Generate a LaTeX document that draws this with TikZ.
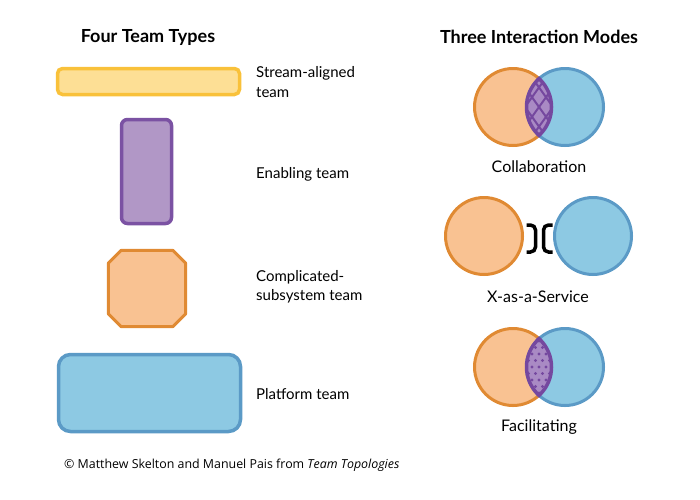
\documentclass[tikz,border=0pt]{standalone}
\usepackage{fontspec}
\setmainfont{Lato}
\newfontfamily\credfont{Open Sans}
\usetikzlibrary{calc}
\definecolor{ylwF}{HTML}{FDDF95}\definecolor{ylwD}{HTML}{F9C13A}
\definecolor{purF}{HTML}{B197C6}\definecolor{purD}{HTML}{7B52A3}
\definecolor{orgF}{HTML}{F9C292}\definecolor{orgD}{HTML}{E08A33}
\definecolor{bluF}{HTML}{8DC9E3}\definecolor{bluD}{HTML}{5B9AC6}
\definecolor{lnsF}{HTML}{A98AC4}\definecolor{lnsD}{HTML}{75489F}
\begin{document}
\begin{tikzpicture}[x=1pt,y=-1pt,
 team/.style={draw,line width=3.5pt,inner sep=0},
 mode/.style={circle,draw,line width=3pt,minimum size=77pt,inner sep=0},
 lbl/.style={anchor=west,align=left,inner sep=0,font=\fontsize{15}{19.5}\selectfont},
 ttl/.style={inner sep=0,font=\bfseries\fontsize{18}{20}\selectfont},
 modelbl/.style={inner sep=0,font=\fontsize{16}{19}\selectfont}]
\useasboundingbox (0,0) rectangle (700,499);
% four team types
\node[ttl] (t1) at (148,37) {Four Team Types};
\node[team,fill=ylwF,draw=ylwD,rounded corners=5pt,minimum width=182pt,minimum height=26pt] (sa) at (148.5,81.5) {};
\node[team,fill=purF,draw=purD,rounded corners=6pt,minimum width=50pt,minimum height=104pt] (en) at (146.5,171.5) {};
\node[inner sep=0,minimum width=77pt,minimum height=76pt] (cs) at (147,288.5) {};
\draw[orgD,fill=orgF,line width=3pt,line join=round] ($(cs.north west)+(13,0)$) -- ($(cs.north east)+(-13,0)$) -- ($(cs.north east)+(0,13)$)
  -- ($(cs.south east)+(0,-13)$) -- ($(cs.south east)+(-13,0)$) -- ($(cs.south west)+(13,0)$) -- ($(cs.south west)+(0,-13)$)
  -- ($(cs.north west)+(0,13)$) -- cycle;
\node[team,fill=bluF,draw=bluD,rounded corners=12pt,minimum width=182pt,minimum height=77pt] (pl) at (149.5,393) {};
\node[lbl] (lsa) at (256,82) {Stream-aligned\\team};
\node[lbl] (len) at (256,174) {Enabling team};
\node[lbl] (lcs) at (256,287) {Complicated-\\subsystem team};
\node[lbl] (lpl) at (256,394) {Platform team};
% three interaction modes
\node[ttl] (t2) at (539,37) {Three Interaction Modes};
\foreach \m/\y/\xa/\xb in {co/107/513/565, xs/236/484/593, fa/367/513/565} {
  \node[mode,fill=orgF,draw=orgD] (\m A) at (\xa,\y) {};
  \node[mode,fill=bluF,draw=bluD] (\m B) at (\xb,\y) {};
}
\foreach \m in {co,fa} {
  \begin{scope}
    \clip (\m A) circle (38.5);
    \fill[lnsF] (\m B) circle (38.5);
  \end{scope}
}
% hatch and dots
\begin{scope}
  \clip (coA) circle (38.5); \clip (coB) circle (38.5);
  \foreach \k in {-56,-42,...,56} {
    \draw[lnsD,line width=2pt] ($(539,107)+(\k,0)+(-30,-42)$) -- +(60,84);
    \draw[lnsD,line width=2pt] ($(539,107)+(\k,0)+(-30,42)$) -- +(60,-84);
  }
\end{scope}
\begin{scope}
  \clip (faA) circle (38.5); \clip (faB) circle (38.5);
  \foreach \i in {-6,...,6} \foreach \j in {-6,...,6} {
    \pgfmathsetmacro\dx{539+\i*7+mod(abs(\j),2)*3.5}
    \fill[lnsD] (\dx,367+\j*6.5) circle (1.7);
  }
\end{scope}
\foreach \m in {co,fa} {
  \begin{scope} \clip (\m A) circle (40); \draw[lnsD,line width=3.5pt] (\m B) circle (38.5); \end{scope}
  \begin{scope} \clip (\m B) circle (40); \draw[lnsD,line width=3.5pt] (\m A) circle (38.5); \end{scope}
}
% x-as-a-service brackets
\draw[line width=3.5pt,rounded corners=5pt] (526.5,225) -- (535.5,225) -- (535.5,252) -- (526.5,252);
\draw[line width=3.5pt,rounded corners=5pt] (552.5,225) -- (543.5,225) -- (543.5,252) -- (552.5,252);
\node[modelbl] (lco) at (539,167) {Collaboration};
\node[modelbl] (lxs) at (538,297) {X-as-a-Service};
\node[modelbl] (lfa) at (539,427) {Facilitating};
% credit
\node[anchor=west,inner sep=0,font=\credfont\fontsize{12.4}{14}\selectfont] (cr) at (64,465) {© Matthew Skelton and Manuel Pais from \textit{Team Topologies}};
\end{tikzpicture}
\end{document}
